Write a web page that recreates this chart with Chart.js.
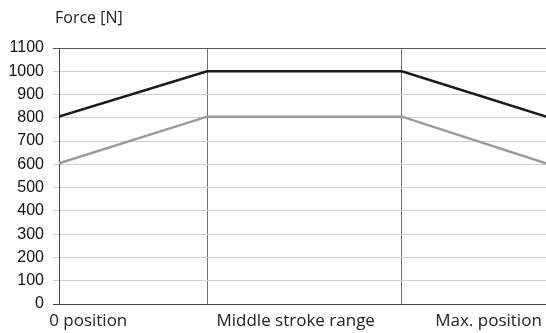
<!DOCTYPE html>
<html>
<head>
<meta charset="utf-8">
<script src="https://cdn.jsdelivr.net/npm/chart.js@4.4.0/dist/chart.umd.min.js"></script>
<style>
html,body{margin:0;padding:0;background:#fff;}
#wrap{width:546px;height:333px;position:relative;}
</style>
</head>
<body>
<div id="wrap"><canvas id="c"></canvas></div>
<script>
// Stroke positions (x in % of stroke)
const strokePositions = [0, 30.4, 70.4, 100];
const maxForce = [805, 1000, 1000, 805];
const minForce = [605, 805, 805, 605];
const yTicks = [0,100,200,300,400,500,600,700,800,900,1000,1100];
const dividerPositions = [30.4, 70.4];
const xLabels = ["0 position", "Middle stroke range", "Max. position"];
const xLabelPositions = [6.0, 48.6, 88.2];
const yTitle = "Force [N]";

const toPts = (ys) => strokePositions.map((x, i) => ({x, y: ys[i]}));

const titlePlugin = {
  id: 'ytitle',
  afterDraw(chart) {
    const ctx = chart.ctx;
    ctx.save();
    ctx.font = '16px "Open Sans"';
    ctx.fillStyle = '#222';
    ctx.textBaseline = 'middle';
    ctx.textAlign = 'left';
    ctx.fillText(yTitle, 55, 18);
    ctx.restore();
  }
};

new Chart(document.getElementById('c'), {
  type: 'line',
  data: {
    datasets: [
      {data: toPts(maxForce), borderColor: '#1a1a1a', borderWidth: 2.5, pointRadius: 0, tension: 0, xAxisID: 'x', yAxisID: 'y'},
      {data: toPts(minForce), borderColor: '#9a9a9a', borderWidth: 2.5, pointRadius: 0, tension: 0, xAxisID: 'x', yAxisID: 'y'}
    ]
  },
  options: {
    responsive: true,
    maintainAspectRatio: false,
    animation: false,
    events: [],
    layout: {padding: {top: 48, left: 0, right: 0, bottom: 0}},
    plugins: {legend: {display: false}, tooltip: {enabled: false}, title: {display: false}},
    scales: {
      x: {
        type: 'linear', position: 'bottom', min: 0, max: 100,
        afterBuildTicks: (s) => { s.ticks = dividerPositions.map(v => ({value: v})); },
        ticks: {display: false},
        grid: {color: '#6e6e6e', lineWidth: 1, drawTicks: false},
        border: {color: '#444', width: 1},
        afterFit: (s) => { s.height = 0; s.paddingLeft = 0; s.paddingRight = 0; }
      },
      x2: {
        type: 'linear', position: 'bottom', min: 0, max: 100,
        afterBuildTicks: (s) => { s.ticks = xLabelPositions.map(v => ({value: v})); },
        ticks: {
          autoSkip: false, maxRotation: 0, minRotation: 0, padding: 7,
          font: {family: '"Open Sans"', size: 17}, color: '#222',
          callback: (v, i) => xLabels[i]
        },
        grid: {display: false, drawTicks: false},
        border: {display: false},
        afterFit: (s) => { s.height = 29; s.paddingLeft = 0; s.paddingRight = 0; }
      },
      y: {
        min: 0, max: 1100,
        afterBuildTicks: (s) => { s.ticks = yTicks.map(v => ({value: v})); },
        ticks: {
          padding: 9, color: '#111',
          font: {family: 'Arial, "Liberation Sans", sans-serif', size: 16},
          callback: (v) => String(v)
        },
        grid: {
          color: (c) => (c.tick && c.tick.value === 1100) ? '#555' : (c.tick && c.tick.value === 0 ? '#444' : '#d0d0d0'),
          lineWidth: 1, tickLength: 6
        },
        border: {color: '#444', width: 1},
        afterFit: (s) => { s.width = 59; }
      }
    }
  },
  plugins: [titlePlugin]
});
</script>
</body>
</html>
